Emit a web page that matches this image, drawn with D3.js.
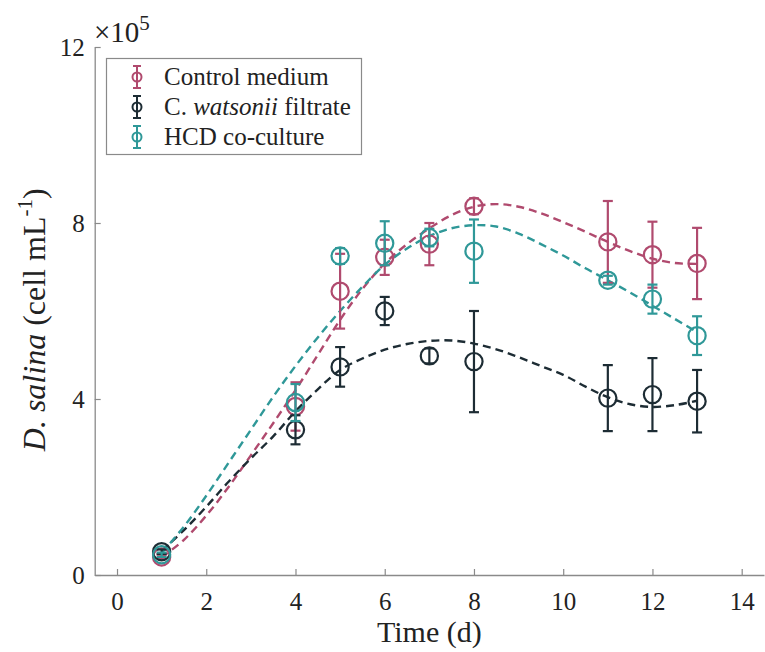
<!DOCTYPE html>
<html>
<head>
<meta charset="utf-8">
<script src="https://cdn.jsdelivr.net/npm/d3@7/dist/d3.min.js"></script>
<style>
  html, body { margin: 0; padding: 0; background: #ffffff; }
  svg { display: block; }
  text { font-family: "Liberation Serif", "Times New Roman", serif; fill: #222; }
</style>
</head>
<body>
<svg id="chart" width="765" height="652"></svg>
<script>
// ---- data (cell density, ×10^5 cell mL^-1) ----
const days = [1, 4, 5, 6, 7, 8, 11, 12, 13];
const controlMean  = [0.41, 3.83, 6.45, 7.22, 7.52, 8.38, 7.57, 7.28, 7.08];
const controlErr   = [0.05, 0.55, 0.85, 0.40, 0.48, 0.18, 0.93, 0.75, 0.81];
const watsoniiMean = [0.53, 3.30, 4.73, 6.00, 4.98, 4.85, 4.02, 4.10, 3.95];
const watsoniiErr  = [0.05, 0.33, 0.45, 0.32, 0.17, 1.15, 0.75, 0.83, 0.71];
const hcdMean      = [0.46, 3.92, 7.25, 7.54, 7.67, 7.36, 6.70, 6.27, 5.44];
const hcdErr       = [0.05, 0.42, 0.18, 0.50, 0.20, 0.72, 0.10, 0.33, 0.44];

// fitted trend curves
const fitDays     = [1, 1.5, 2, 2.5, 3, 3.5, 4, 4.5, 5, 5.5, 6, 6.5, 7, 7.5, 8, 8.5, 9, 9.5, 10, 10.5, 11, 11.5, 12, 12.5, 13];
const controlFit  = [0.40, 0.80, 1.35, 2.00, 2.72, 3.45, 4.20, 5.00, 5.80, 6.50, 7.08, 7.52, 7.88, 8.18, 8.37, 8.43, 8.37, 8.22, 8.02, 7.80, 7.57, 7.36, 7.19, 7.09, 7.07];
const watsoniiFit = [0.55, 1.02, 1.55, 2.12, 2.65, 3.15, 3.72, 4.22, 4.66, 4.92, 5.12, 5.25, 5.32, 5.33, 5.26, 5.13, 4.95, 4.75, 4.55, 4.28, 4.04, 3.88, 3.82, 3.86, 3.96];
const hcdFit      = [0.50, 1.10, 1.80, 2.55, 3.30, 4.05, 4.75, 5.40, 6.00, 6.55, 7.05, 7.42, 7.70, 7.88, 7.95, 7.92, 7.76, 7.52, 7.26, 6.97, 6.70, 6.42, 6.12, 5.82, 5.52];

const seriesNames  = ["Control medium", "C. watsonii filtrate", "HCD co-culture"];
const seriesColors = ["#b04a6e", "#1d2c34", "#2f9898"];

const xTicks = [0, 2, 4, 6, 8, 10, 12, 14];
const yTicks = [0, 4, 8, 12];

// ---- layout ----
const svg = d3.select("#chart");
const x = d3.scaleLinear().domain([-0.5, 14.5]).range([94.7, 764]);
const y = d3.scaleLinear().domain([0, 12]).range([575, 47]);

const axisColor = "#8a8a8a";
const serif = '"Liberation Serif", "Times New Roman", serif';

// axes
const xAxis = svg.append("g").attr("transform", `translate(0,${y(0)})`)
  .call(d3.axisBottom(x).tickValues(xTicks).tickSizeInner(-6).tickSizeOuter(0).tickPadding(17).tickFormat(d3.format("d")));
const yAxis = svg.append("g").attr("transform", `translate(${x(-0.5)},0)`)
  .call(d3.axisLeft(y).tickValues(yTicks).tickSizeInner(-6).tickSizeOuter(0).tickPadding(10).tickFormat(d3.format("d")));
[xAxis, yAxis].forEach(g => {
  g.attr("font-family", serif);
  g.select(".domain").attr("stroke", axisColor).attr("stroke-width", 1.3);
  g.selectAll(".tick line").attr("stroke", axisColor).attr("stroke-width", 1.2);
  g.selectAll(".tick text").attr("fill", "#222").style("font-size", "25px")
    .style("font-family", serif);
});
xAxis.selectAll(".tick text").attr("dy", "0.71em");
yAxis.selectAll(".tick text").attr("dy", "0.34em");

// exponent label
const expo = svg.append("text").attr("x", 94).attr("y", 42).style("font-size", "29px");
expo.append("tspan").text("×10");
expo.append("tspan").attr("dy", -12).style("font-size", "21px").text("5");

// axis labels
svg.append("text").attr("x", x(7)).attr("y", 642).attr("text-anchor", "middle")
  .style("font-size", "30px").text("Time (d)");

const yl = svg.append("text").attr("transform", `translate(45,${y(5.8)}) rotate(-90)`)
  .attr("text-anchor", "middle").style("font-size", "32px");
yl.append("tspan").style("font-style", "italic").text("D. salina");
yl.append("tspan").text(" (cell mL");
yl.append("tspan").attr("dy", -13).style("font-size", "21px").text("-1");
yl.append("tspan").attr("dy", 13).text(")");

// ---- fitted curves ----
const fits = [controlFit, watsoniiFit, hcdFit];
const line = d3.line().x(d => x(d[0])).y(d => y(d[1])).curve(d3.curveCatmullRom.alpha(0.5));
fits.forEach((f, i) => {
  svg.append("path")
    .datum(fitDays.map((t, k) => [t, f[k]]))
    .attr("d", line)
    .attr("fill", "none")
    .attr("stroke", seriesColors[i])
    .attr("stroke-width", 2.4)
    .attr("stroke-dasharray", "8,5");
});

// ---- error bars + markers ----
const means = [controlMean, watsoniiMean, hcdMean];
const errs = [controlErr, watsoniiErr, hcdErr];
const capW = 5;
means.forEach((m, i) => {
  const g = svg.append("g").attr("stroke", seriesColors[i]).attr("fill", "none").attr("stroke-width", 2.2);
  const pts = days.map((t, k) => ({ t, v: m[k], e: errs[i][k] }));
  g.selectAll("line.v").data(pts).join("line").attr("class", "v")
    .attr("x1", d => x(d.t)).attr("x2", d => x(d.t))
    .attr("y1", d => y(d.v + d.e)).attr("y2", d => y(d.v - d.e));
  g.selectAll("line.top").data(pts).join("line").attr("class", "top")
    .attr("x1", d => x(d.t) - capW).attr("x2", d => x(d.t) + capW)
    .attr("y1", d => y(d.v + d.e)).attr("y2", d => y(d.v + d.e));
  g.selectAll("line.bot").data(pts).join("line").attr("class", "bot")
    .attr("x1", d => x(d.t) - capW).attr("x2", d => x(d.t) + capW)
    .attr("y1", d => y(d.v - d.e)).attr("y2", d => y(d.v - d.e));
  g.selectAll("circle").data(pts).join("circle")
    .attr("cx", d => x(d.t)).attr("cy", d => y(d.v)).attr("r", 8.6);
});

// ---- legend ----
const lg = svg.append("g");
lg.append("rect").attr("x", 106.5).attr("y", 58.5).attr("width", 255).attr("height", 96)
  .attr("fill", "#fff").attr("stroke", "#8a8a8a").attr("stroke-width", 1.2);
const legY = [77, 107, 137];
seriesNames.forEach((name, i) => {
  const cy = legY[i];
  const c = seriesColors[i];
  const gg = lg.append("g").attr("stroke", c).attr("fill", "none").attr("stroke-width", 2);
  gg.append("line").attr("x1", 137).attr("x2", 137).attr("y1", cy - 11).attr("y2", cy + 11);
  gg.append("line").attr("x1", 133).attr("x2", 141).attr("y1", cy - 11).attr("y2", cy - 11);
  gg.append("line").attr("x1", 133).attr("x2", 141).attr("y1", cy + 11).attr("y2", cy + 11);
  gg.append("circle").attr("cx", 137).attr("cy", cy).attr("r", 4.5);
  const t = lg.append("text").attr("x", 164).attr("y", cy).attr("dy", "0.33em").style("font-size", "25px");
  if (i === 1) {
    t.append("tspan").text("C. ");
    t.append("tspan").style("font-style", "italic").text("watsonii");
    t.append("tspan").text(" filtrate");
  } else {
    t.text(name);
  }
});
</script>
</body>
</html>
